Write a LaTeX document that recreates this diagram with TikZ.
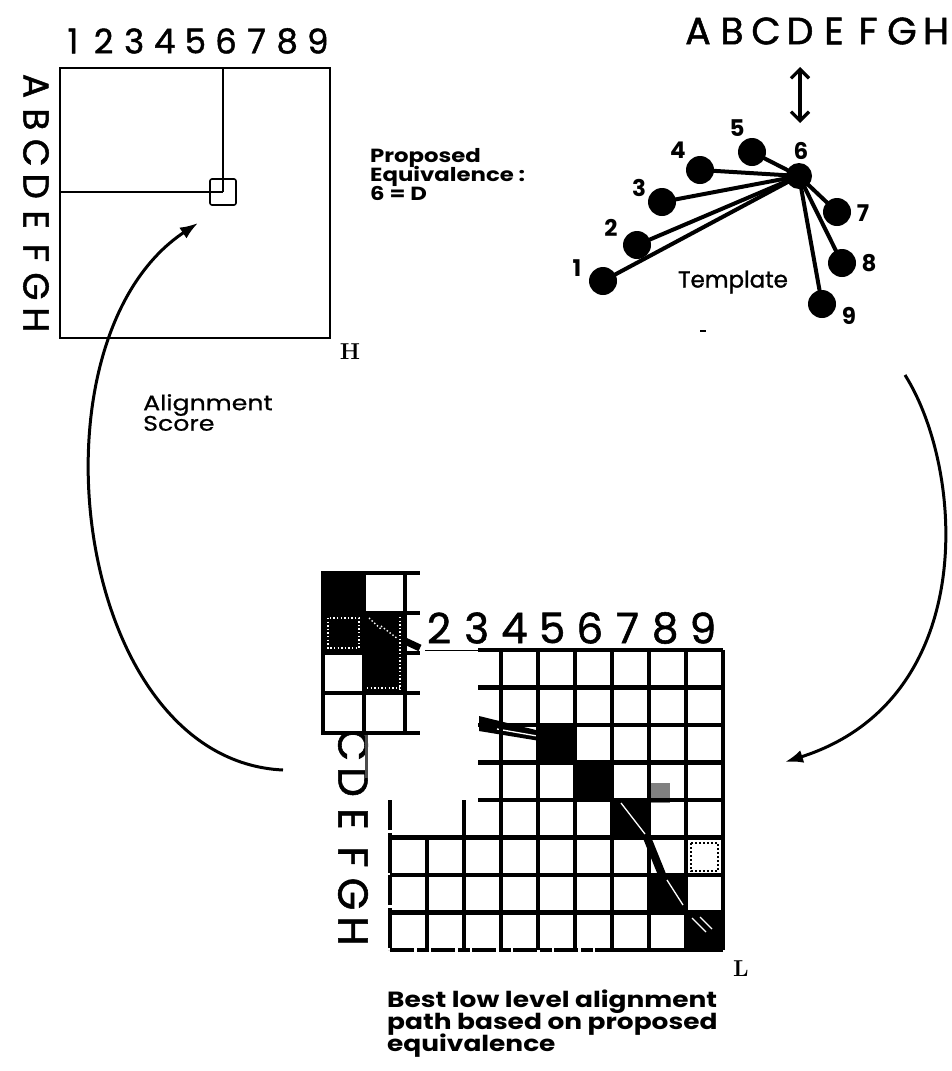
\documentclass[tikz,border=0pt]{standalone}
\usepackage{fontspec}
\newfontfamily\geo{Poppins}
\newfontfamily\geomed[FakeBold=1.3]{Poppins}
\newfontfamily\geowide[FakeStretch=1.2]{Poppins}
\newfontfamily\geomedwide[FakeBold=0.8,FakeStretch=1.2]{Poppins}
\newcommand\packedlines{\lineskiplimit=-30pt\relax}
\usetikzlibrary{arrows.meta}

\begin{document}
\begin{tikzpicture}[x=1pt,y=-1pt,
  frame/.style={line width=2.2pt},
  thinrule/.style={line width=1.6pt},
  gridln/.style={line width=4.2pt},
  insetln/.style={line width=4.4pt},
  flow/.style={line width=3pt,-{Latex[length=18pt,width=13pt]}},
  dotnode/.style={circle,fill=black,inner sep=0pt,minimum size=28pt},
  spoke/.style={line width=4pt},
  numlbl/.style={font=\geo\bfseries\fontsize{23}{23}\selectfont,inner sep=0pt},
  headtxt/.style={font=\geomed\fontsize{34}{34}\selectfont,inner sep=0pt},
  sidetxt/.style={font=\geomed\fontsize{36}{36}\selectfont,inner sep=0pt},
  axistxt/.style={font=\geomed\fontsize{42}{42}\selectfont,inner sep=0pt},
  cornertxt/.style={font=\bfseries\fontsize{23}{23}\selectfont,inner sep=0pt},
  note/.style={align=left,anchor=north west,inner sep=0pt},
  speckle/.style={white,line width=1.4pt,dash pattern=on 1.4pt off 2.2pt},
  streak/.style={white,line width=1.3pt},
]
\useasboundingbox (0,0) rectangle (952,1071);

% ---------- upper left: coarse score matrix ----------
\draw[frame] (60,68) rectangle (330,338);
\node[draw,thinrule,rounded corners=2pt,minimum size=26pt,inner sep=0pt] (pick) at (223,192) {};
\coordinate (colsix) at (223,68);
\coordinate (rowD) at (60,192);
\draw[thinrule] (colsix) -- (pick.center);
\draw[thinrule] (rowD) -- (pick.center);
\foreach \d [count=\i] in {1,2,3,4,5,6,7,8,9}
  \node[headtxt] (top\i) at ({73+30.6*(\i-1)},41) {\d};
\foreach \L [count=\i] in {A,B,C,D,E,F,G,H}
  \node[sidetxt,rotate=-90] (side\i) at (36,{86+33.4*(\i-1)}) {\L};
\node[cornertxt] (cornerH) at (350,352) {H};

% ---------- proposed equivalence ----------
\node[note,font=\geowide\bfseries\fontsize{19}{19}\selectfont\packedlines] (prop) at (370,148)
  {Proposed\\Equivalence :\\6 = D};

% ---------- template ----------
\foreach \k/\x/\y in {1/603/281,2/637/245,3/662/202,4/700/170,5/752/152,
                      7/837/212,8/842/263,9/822/304}
  \node[dotnode] (t\k) at (\x,\y) {};
\node[dotnode,minimum size=26pt] (t6) at (799,176) {};
\foreach \k in {1,2,3,4,5,7,8,9}
  \draw[spoke] (t6.center) -- (t\k.center);
\foreach \k/\x/\y in {1/577/268,2/611/228,3/639/188,4/678/150,5/737/128,
                      6/801/151,7/863/213,8/869/263,9/849/316}
  \node[numlbl] (n\k) at (\x,\y) {\k};
\node[font=\geomed\fontsize{23}{23}\selectfont,inner sep=0pt] (tmpl) at (733,282) {Template};
\coordinate (speckA) at (700,331);
\coordinate (speckB) at (706,331);
\draw[line width=2pt] (speckA) -- (speckB);

\foreach \L [count=\i] in {A,B,C,D,E,F,G,H}
  \node[font=\geomed\fontsize{38}{38}\selectfont,inner sep=0pt] (lt\i) at ({698+34*(\i-1)},31) {\L};
\coordinate (dup) at (800,67);
\coordinate (ddn) at (800,123);
\draw[line width=3.2pt,{Straight Barb[length=9pt,width=18pt]}-{Straight Barb[length=9pt,width=18pt]}] (dup) -- (ddn);

% ---------- feedback arrows ----------
\coordinate (la0) at (283,770);
\coordinate (la1) at (198,223);
\draw[flow] (la0) .. controls (72,760) and (22,340) .. (la1);
\coordinate (ra0) at (905,375);
\coordinate (ra1) at (785,762);
\draw[flow] (ra0) .. controls (965,470) and (980,700) .. (ra1);
\node[note,font=\geomedwide\fontsize{21}{20.5}\selectfont\packedlines] (score) at (143,394) {Alignment\\Score};

% ---------- lower grid: low level alignment ----------
% filled cells on the path
\fill (538,725) rectangle (575,762.5);
\fill (575,762.5) rectangle (612,800);
\fill (612,800) rectangle (649,837.5);
\fill (649,875) rectangle (686,912.5);
\fill (686,912.5) rectangle (723,950);
\fill[black!50] (650,783) rectangle (670,803);
% path pieces
\fill (479,716) -- (540,731) -- (540,741) -- (479,731) -- cycle;
\draw[streak] (497,729) -- (537,736);
\draw[line width=8pt] (646,835) -- (663,877);
\draw[streak] (621,803) -- (645,834);
\draw[streak] (667,880) -- (683,905);
\draw[streak] (692,918) -- (706,932);
\draw[streak] (700,917) -- (712,929);
% grid lines
\draw[line width=1pt] (425,650) -- (478,650);
\foreach \y in {650,687.5,725,762.5,800}
  \draw[gridln] (478,\y) -- (723,\y);
\foreach \y in {837.5,875,912.5}
  \draw[gridln] (390,\y) -- (723,\y);
\draw[gridln] (612,950) -- (723,950);
\draw[gridln,dash pattern=on 24pt off 3pt on 12pt off 2pt] (390,950) -- (612,950);
\draw[gridln,dash pattern=on 30pt off 3pt on 40pt off 2pt] (390,800) -- (390,950);
\draw[gridln] (427,837.5) -- (427,950);
\draw[gridln] (464,800) -- (464,950);
\foreach \x in {501,538,575,612,649,686,723}
  \draw[gridln] (\x,650) -- (\x,950);
% dotted candidate cell
\draw[line width=2.6pt,dash pattern=on 1.6pt off 2.4pt] (691,843) rectangle (718,871);
% axis labels
\foreach \d [count=\i] in {2,3,4,5,6,7,8,9}
  \node[axistxt] (bc\d) at ({439+37.7*(\i-1)},628) {\d};
\foreach \L/\y in {C/745,D/782,E/819,F/857,G/894,H/931}
  \node[axistxt,rotate=-90] (br\L) at (353,\y) {\L};
\node[cornertxt] (cornerL) at (741,969) {L};

% magnified corner
\fill[white] (323,573) rectangle (420,735);
\fill (323,573) rectangle (364,653);
\fill (364,613) rectangle (405,693);
\draw[line width=7pt] (366,618) -- (405,641) -- (420,648);
\foreach \x in {323,364,405}
  \draw[insetln] (\x,573) -- (\x,735);
\foreach \y in {573,613,653,693,733}
  \draw[insetln] (321,\y) -- (420,\y);
\draw[speckle] (328,618) rectangle (359,648);
\draw[speckle] (400,617) -- (400,690);
\draw[speckle] (367,688) -- (400,688);
\draw[speckle] (369,618) -- (382,630);
\draw[speckle] (381,626) -- (398,639);
\coordinate (stickA) at (366,735);
\coordinate (stickB) at (366,778);
\draw[line width=3pt,black!70] (stickA) -- (stickB);

\node[note,font=\geowide\bfseries\fontsize{22}{22}\selectfont\packedlines] (caption) at (387,990)
  {Best low level alignment\\path based on proposed\\equivalence};
\end{tikzpicture}
\end{document}
